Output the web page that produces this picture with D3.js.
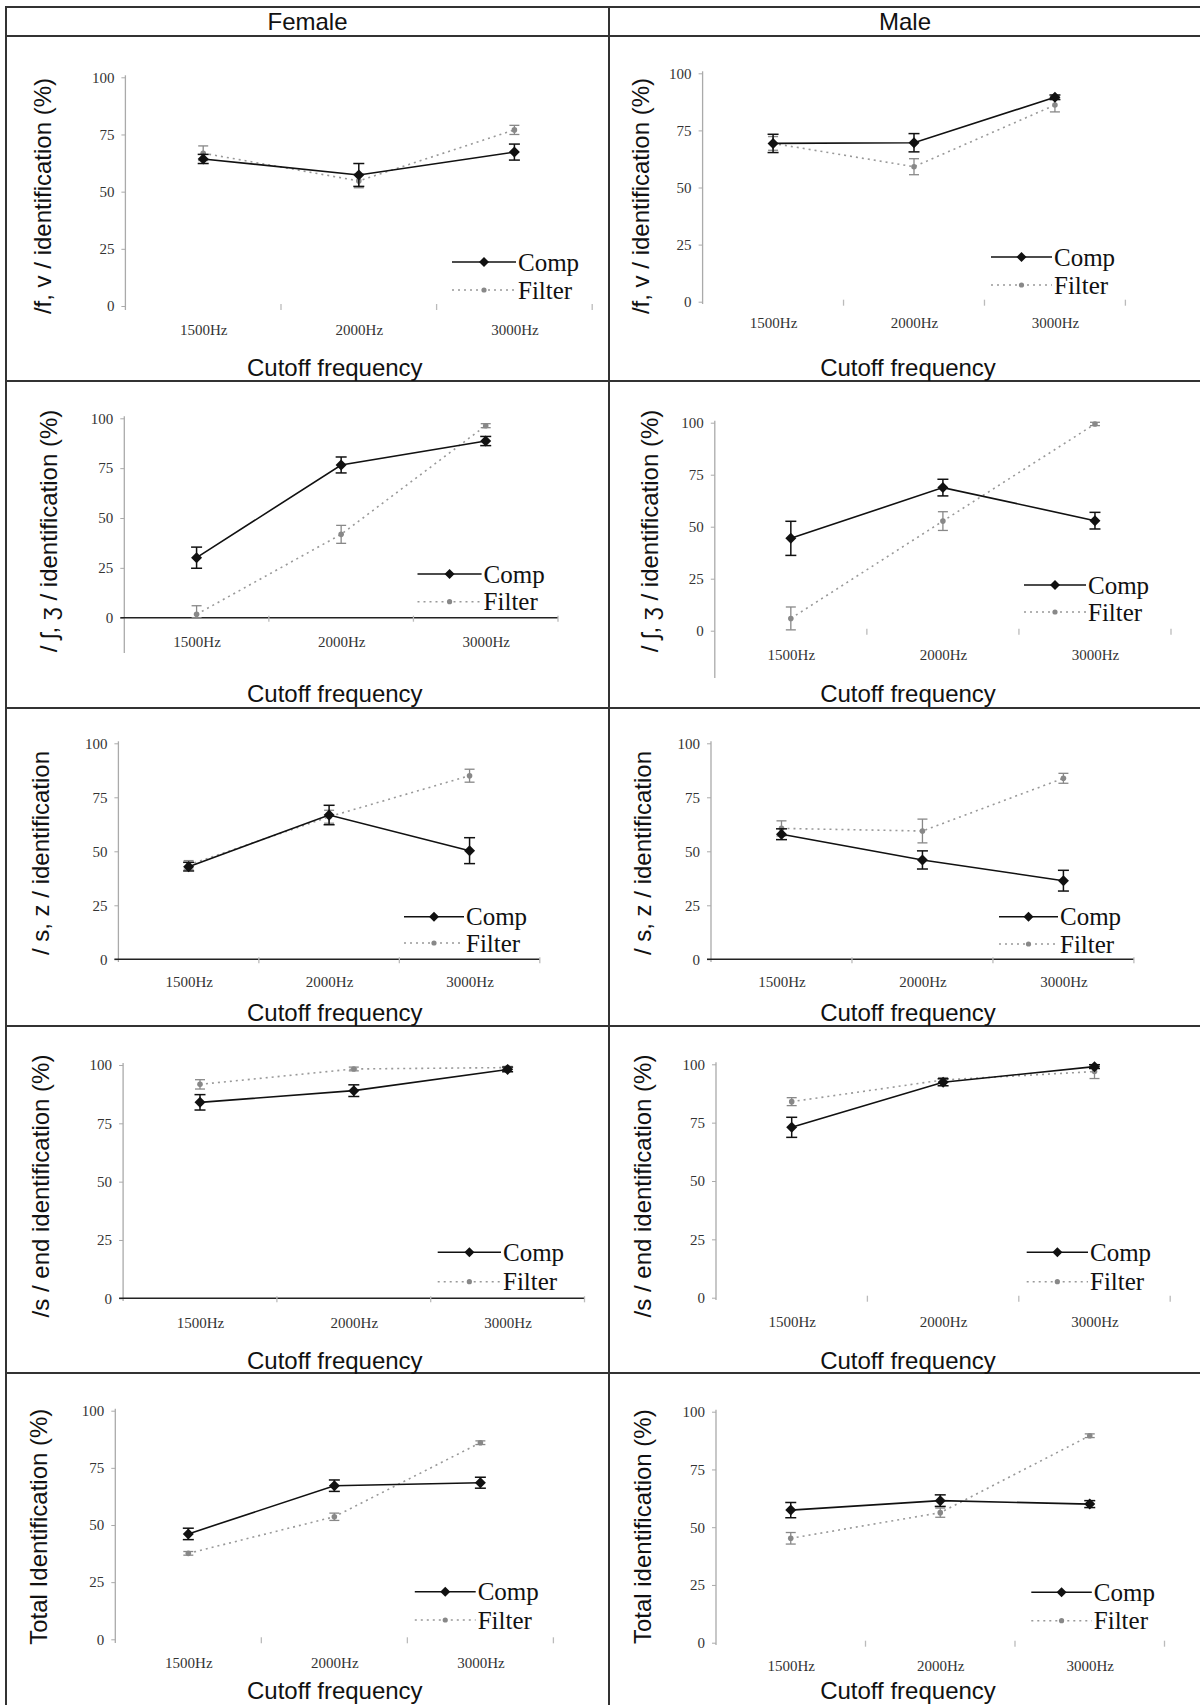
<!DOCTYPE html>
<html>
<head>
<meta charset="utf-8">
<script src="https://cdn.jsdelivr.net/npm/d3@7"></script>
<style>
  body { margin: 0; background: #fff; }
  svg { display: block; }
</style>
</head>
<body>
<script>
// data
const categories = ['1500Hz', '2000Hz', '3000Hz'];
const yTicks = [0, 25, 50, 75, 100];
const genders = ['Female', 'Male'];
const seriesNames = ['Comp', 'Filter'];

const yLabels = [
    '/f, v / identification (%)', '/f, v / identification (%)',
    '/ ʃ, ʒ / identification (%)', '/ ʃ, ʒ / identification (%)',
    '/ s, z / identification', '/ s, z / identification',
    '/s / end identification (%)', '/s / end identification (%)',
    'Total Identification (%)', 'Total identification (%)'
];

const compMean = [
    [64.3, 57.3, 67.3], [69.3, 69.6, 89.5],
    [30.1, 76.6, 88.6], [44.4, 68.8, 52.9],
    [42.9, 66.8, 50.3], [57.9, 46.0, 36.4],
    [84.0, 89.0, 98.1], [73.0, 92.3, 99.0],
    [46.1, 67.2, 68.5], [57.4, 61.5, 60.0]
];
const compErr = [
    [2, 5, 3.5], [4, 4, 1],
    [5.3, 4, 2.3], [8.2, 4, 4],
    [2, 4.5, 6], [2.5, 4.2, 4.8],
    [3.3, 2.5, 1], [4.3, 1.5, 0.8],
    [2.5, 2.5, 2.4], [3.3, 2.5, 1.5]
];
const filterMean = [
    [66.8, 54.7, 77.0], [69.3, 59.1, 86.1],
    [1.7, 41.8, 96.3], [5.9, 52.7, 99.4],
    [43.7, 66.0, 85.0], [60.6, 59.4, 83.8],
    [91.7, 98.3, 98.9], [84.0, 93.3, 96.9],
    [37.6, 53.6, 86.0], [45.2, 56.3, 89.6]
];
const filterErr = [
    [3.2, 3, 2], [3, 3.5, 3],
    [4.3, 4.5, 1], [5.5, 4.5, 0.8],
    [2, 3, 3], [3.5, 5.5, 2.3],
    [2, 0.8, 0.5], [1.7, 1, 3],
    [0.8, 1.6, 0.8], [2.5, 2, 0.8]
];

// panel geometry (layout only)
const panels = [
    { x0: 125.4, x1: 592.2, y0: 306, y100: 77.3, bot: 310, dark: false, labY: 330, leg: [452, 516, 262, 290], ylab: [42.7, 196], cut: [334.8, 367] },
    { x0: 702.6, x1: 1125.4, y0: 301.7, y100: 73.3, bot: 304, dark: false, labY: 323, leg: [991, 1052, 257, 285], ylab: [640, 196], cut: [908, 367] },
    { x0: 124.3, x1: 558, y0: 617.7, y100: 418.3, bot: 653, dark: true, labY: 641.7, leg: [417.5, 481.6, 574, 601.7], ylab: [48.5, 531], cut: [334.8, 693] },
    { x0: 714.8, x1: 1171, y0: 630.7, y100: 422.7, bot: 678, dark: false, labY: 655, leg: [1024, 1086, 585, 612], ylab: [649.8, 531], cut: [908, 693] },
    { x0: 118.4, x1: 539.8, y0: 959.3, y100: 743.3, bot: 962, dark: true, labY: 981.7, leg: [404, 464, 916.7, 943], ylab: [40.8, 853], cut: [334.8, 1012] },
    { x0: 711, x1: 1133.9, y0: 959.3, y100: 743.3, bot: 962, dark: true, labY: 981.7, leg: [999, 1058, 916.7, 944], ylab: [642, 853], cut: [908, 1012] },
    { x0: 123.1, x1: 584.5, y0: 1298.3, y100: 1065, bot: 1301, dark: true, labY: 1323.3, leg: [437.7, 501, 1252.3, 1281.7], ylab: [40.8, 1186], cut: [334.8, 1360] },
    { x0: 716, x1: 1170.2, y0: 1297.7, y100: 1064.3, bot: 1300, dark: false, labY: 1321.7, leg: [1026.7, 1088, 1252.3, 1281.7], ylab: [642, 1186], cut: [908, 1360] },
    { x0: 115.3, x1: 553.4, y0: 1639.3, y100: 1410.7, bot: 1643, dark: false, labY: 1663.3, leg: [414.8, 475.7, 1591.7, 1620], ylab: [38.8, 1526.7], cut: [334.8, 1690] },
    { x0: 716, x1: 1164.5, y0: 1642.7, y100: 1411.7, bot: 1645, dark: false, labY: 1666, leg: [1031.3, 1091.8, 1592.3, 1620.7], ylab: [642, 1526.7], cut: [908, 1690] }
];

const W = 1200, H = 1705;
const sans = '"Liberation Sans", Arial, sans-serif';
const serif = '"Liberation Serif", "Times New Roman", serif';

const svg = d3.select('body').append('svg')
    .attr('width', W)
    .attr('height', H);

svg.append('rect').attr('width', W).attr('height', H).attr('fill', '#fff');

// table grid
const grid = svg.append('g').attr('stroke', '#333').attr('stroke-width', 2);
[7, 36, 381, 708, 1026, 1373].forEach(yy => {
    grid.append('line').attr('x1', 5).attr('x2', W).attr('y1', yy).attr('y2', yy);
});
[6, 609].forEach(xx => {
    grid.append('line').attr('x1', xx).attr('x2', xx).attr('y1', 6).attr('y2', H);
});

// header
svg.selectAll('.head')
    .data(genders)
    .enter()
    .append('text')
    .attr('class', 'head')
    .attr('x', (d, i) => i === 0 ? 307.5 : 905)
    .attr('y', 21)
    .attr('text-anchor', 'middle')
    .attr('dominant-baseline', 'central')
    .attr('font-family', sans)
    .attr('font-size', 24)
    .attr('fill', '#111')
    .text(d => d);

const diamond = r => `M0,${-r}L${r},0L0,${r}L${-r},0Z`;

panels.forEach((p, i) => {
    const g = svg.append('g');

    const x = d3.scalePoint().domain(categories).range([p.x0, p.x1]).padding(0.5);
    const band = d3.scaleBand().domain(categories).range([p.x0, p.x1]);
    const y = d3.scaleLinear().domain([0, 100]).range([p.y0, p.y100]);

    // y axis
    const yAxisG = g.append('g')
        .attr('transform', `translate(${p.x0},0)`)
        .call(d3.axisLeft(y).tickValues(yTicks).tickSize(4).tickPadding(7));
    yAxisG.select('.domain').remove();
    yAxisG.selectAll('line').attr('stroke', '#aaa');
    yAxisG.selectAll('text')
        .attr('font-family', serif)
        .attr('font-size', 15)
        .attr('fill', '#333');
    g.append('line')
        .attr('x1', p.x0).attr('x2', p.x0)
        .attr('y1', y(100) - 2).attr('y2', p.bot)
        .attr('stroke', '#aaa')
        .attr('stroke-width', 1.3);

    // x axis
    const xAxisG = g.append('g')
        .attr('transform', `translate(0,${p.y0})`)
        .call(d3.axisBottom(x).tickSize(0).tickPadding(p.labY - p.y0 - 5.5));
    xAxisG.select('.domain').remove();
    xAxisG.selectAll('text')
        .attr('font-family', serif)
        .attr('font-size', 15)
        .attr('fill', '#333');
    if (p.dark) {
        g.append('line')
            .attr('x1', p.x0 - 4).attr('x2', p.x1)
            .attr('y1', p.y0).attr('y2', p.y0)
            .attr('stroke', '#222')
            .attr('stroke-width', 1.6);
    }
    const bounds = categories.map(c => band(c)).concat([p.x1]);
    g.selectAll('.xtick')
        .data(bounds.slice(1))
        .enter()
        .append('line')
        .attr('x1', d => d).attr('x2', d => d)
        .attr('y1', p.y0 - 2).attr('y2', p.y0 + 4)
        .attr('stroke', '#bbb')
        .attr('stroke-width', 1.3);

    // axis titles
    g.append('text')
        .attr('transform', `translate(${p.ylab[0]},${p.ylab[1]}) rotate(-90)`)
        .attr('text-anchor', 'middle')
        .attr('dominant-baseline', 'central')
        .attr('font-family', sans)
        .attr('font-size', 24)
        .attr('fill', '#111')
        .text(yLabels[i]);
    g.append('text')
        .attr('x', p.cut[0])
        .attr('y', p.cut[1])
        .attr('text-anchor', 'middle')
        .attr('dominant-baseline', 'central')
        .attr('font-family', sans)
        .attr('font-size', 24)
        .attr('fill', '#111')
        .text('Cutoff frequency');

    const comp = categories.map((c, k) => ({ c, v: compMean[i][k], e: compErr[i][k] }));
    const filt = categories.map((c, k) => ({ c, v: filterMean[i][k], e: filterErr[i][k] }));
    const line = d3.line().x(d => x(d.c)).y(d => y(d.v));

    // filter series (grey, dotted)
    g.append('path')
        .datum(filt)
        .attr('d', line)
        .attr('fill', 'none')
        .attr('stroke', '#999')
        .attr('stroke-width', 1.6)
        .attr('stroke-dasharray', '2,4');
    const fe = g.selectAll('.ferr').data(filt).enter().append('g')
        .attr('stroke', '#888').attr('stroke-width', 1.3);
    fe.append('line')
        .attr('x1', d => x(d.c)).attr('x2', d => x(d.c))
        .attr('y1', d => y(d.v + d.e)).attr('y2', d => y(Math.max(0, d.v - d.e)));
    fe.append('line')
        .attr('x1', d => x(d.c) - 5).attr('x2', d => x(d.c) + 5)
        .attr('y1', d => y(d.v + d.e)).attr('y2', d => y(d.v + d.e));
    fe.append('line')
        .attr('x1', d => x(d.c) - 5).attr('x2', d => x(d.c) + 5)
        .attr('y1', d => y(Math.max(0, d.v - d.e))).attr('y2', d => y(Math.max(0, d.v - d.e)));
    g.selectAll('.fdot').data(filt).enter().append('circle')
        .attr('cx', d => x(d.c)).attr('cy', d => y(d.v))
        .attr('r', 2.8)
        .attr('fill', '#888');

    // comp series (black, solid)
    g.append('path')
        .datum(comp)
        .attr('d', line)
        .attr('fill', 'none')
        .attr('stroke', '#111')
        .attr('stroke-width', 1.6);
    const ce = g.selectAll('.cerr').data(comp).enter().append('g')
        .attr('stroke', '#111').attr('stroke-width', 1.5);
    ce.append('line')
        .attr('x1', d => x(d.c)).attr('x2', d => x(d.c))
        .attr('y1', d => y(d.v + d.e)).attr('y2', d => y(d.v - d.e));
    ce.append('line')
        .attr('x1', d => x(d.c) - 5.5).attr('x2', d => x(d.c) + 5.5)
        .attr('y1', d => y(d.v + d.e)).attr('y2', d => y(d.v + d.e));
    ce.append('line')
        .attr('x1', d => x(d.c) - 5.5).attr('x2', d => x(d.c) + 5.5)
        .attr('y1', d => y(d.v - d.e)).attr('y2', d => y(d.v - d.e));
    g.selectAll('.cdot').data(comp).enter().append('path')
        .attr('transform', d => `translate(${x(d.c)},${y(d.v)})`)
        .attr('d', diamond(5.5))
        .attr('fill', '#111');

    // legend
    const [lx1, lx2, ly1, ly2] = p.leg;
    const lm = (lx1 + lx2) / 2;
    g.append('line')
        .attr('x1', lx1).attr('x2', lx2).attr('y1', ly1).attr('y2', ly1)
        .attr('stroke', '#111').attr('stroke-width', 1.6);
    g.append('path')
        .attr('transform', `translate(${lm},${ly1})`)
        .attr('d', diamond(5))
        .attr('fill', '#111');
    g.append('line')
        .attr('x1', lx1).attr('x2', lx2).attr('y1', ly2).attr('y2', ly2)
        .attr('stroke', '#999').attr('stroke-width', 1.6)
        .attr('stroke-dasharray', '2,4');
    g.append('circle')
        .attr('cx', lm).attr('cy', ly2).attr('r', 2.6)
        .attr('fill', '#888');
    g.selectAll('.legtext')
        .data(seriesNames)
        .enter()
        .append('text')
        .attr('x', lx2 + 2)
        .attr('y', (d, k) => k === 0 ? ly1 : ly2)
        .attr('dominant-baseline', 'central')
        .attr('font-family', serif)
        .attr('font-size', 25)
        .attr('fill', '#111')
        .text(d => d);
});
</script>
</body>
</html>
